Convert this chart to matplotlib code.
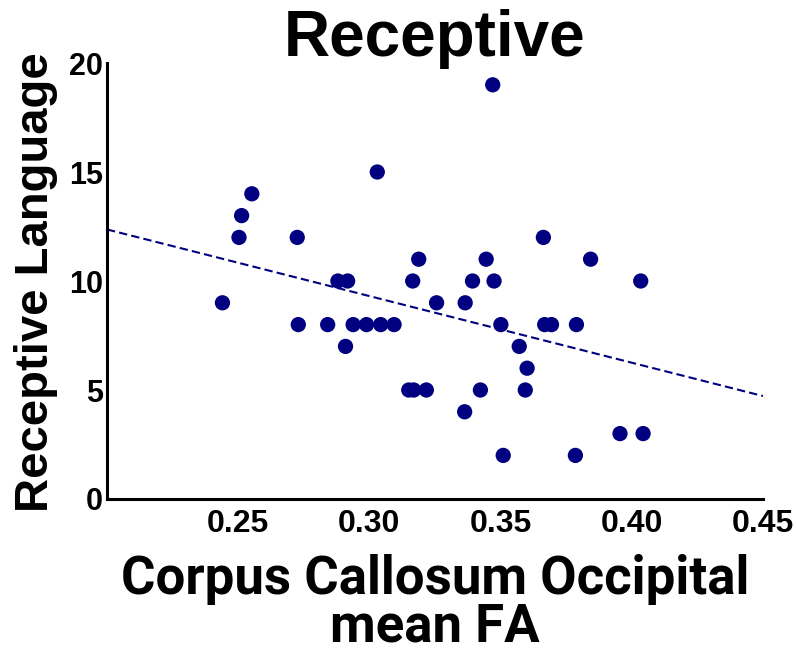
import numpy as np
import matplotlib
matplotlib.use("Agg")
import matplotlib.pyplot as plt

# Corpus callosum occipital mean FA vs receptive language score
fa = [0.2440, 0.2503, 0.2513, 0.2552, 0.2725, 0.2729, 0.2841, 0.2880, 0.2917,
      0.2909, 0.2938, 0.2989, 0.3030, 0.3043, 0.3094, 0.3150, 0.3169, 0.3165,
      0.3188, 0.3217, 0.3256, 0.3363, 0.3365, 0.3393, 0.3423, 0.3445, 0.3470,
      0.3475, 0.3501, 0.3510, 0.3571, 0.3594, 0.3601, 0.3663, 0.3668, 0.3694,
      0.3785, 0.3789, 0.3843, 0.3955, 0.4034, 0.4043]
receptive = [9, 12, 13, 14, 12, 8, 8, 10, 10,
             7, 8, 8, 15, 8, 8, 5, 5, 10,
             11, 5, 9, 4, 9, 10, 5, 11, 19,
             10, 8, 2, 7, 5, 6, 12, 8, 8,
             2, 8, 11, 3, 10, 3]

x_ticks = [0.25, 0.30, 0.35, 0.40, 0.45]
x_tick_labels = ["0.25", "0.30", "0.35", "0.40", "0.45"]
y_ticks = [0, 5, 10, 15, 20]
y_tick_labels = ["0", "5", "10", "15", "20"]

title = "Receptive"
x_label = "Corpus Callosum Occipital\nmean FA"
y_label = "Receptive Language"

NAVY = "#000080"
SANS = ["Liberation Sans", "DejaVu Sans"]
NARROW = ["Roboto", "Liberation Sans", "DejaVu Sans"]

W, H = 796, 654
fig = plt.figure(figsize=(W / 100, H / 100), dpi=100)
ax = fig.add_axes([107 / W, 1 - 499 / H, (763 - 107) / W, (499 - 63) / H])

ax.scatter(fa, receptive, s=121, color=NAVY, edgecolors="none", zorder=3,
           clip_on=False)

# least-squares trend line
slope, intercept = np.polyfit(fa, receptive, 1)
xs = np.array([0.2, 0.45])
ax.plot(xs, slope * xs + intercept, color=NAVY, lw=1.5,
        linestyle=(0, (4, 2)), zorder=2)

ax.set_xlim(0.2, 0.45)
ax.set_ylim(0, 20)
ax.set_xticks(x_ticks)
ax.set_xticklabels(x_tick_labels, fontfamily=SANS, fontweight="bold",
                   fontsize=23)
ax.set_yticks(y_ticks)
ax.set_yticklabels(y_tick_labels, fontfamily=SANS, fontweight="bold",
                   fontsize=22)
ax.tick_params(axis="both", length=0)
ax.tick_params(axis="x", pad=7)
ax.tick_params(axis="y", pad=3)

for side in ("top", "right"):
    ax.spines[side].set_visible(False)
for side in ("left", "bottom"):
    ax.spines[side].set_linewidth(2.2)
    ax.spines[side].set_color("black")

fig.text(435 / W, 1 - 56 / H, title, ha="center", va="baseline",
         fontfamily=SANS, fontweight="bold", fontsize=46)
fig.text(36 / W, 1 - 282 / H, y_label, ha="center", va="center",
         rotation=90, fontfamily=SANS, fontweight="bold", fontsize=34)
# baseline of the last line of the two-line label
fig.text(435 / W, 1 - 642 / H, x_label, ha="center", va="baseline",
         multialignment="center", linespacing=0.93,
         fontfamily=NARROW, fontweight="bold", fontsize=38)

fig.savefig("out.png", dpi=100)
